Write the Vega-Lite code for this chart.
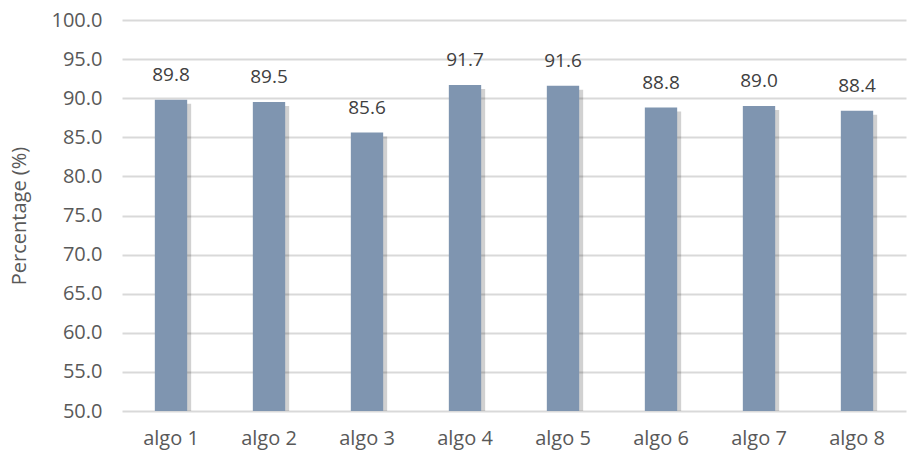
{
  "$schema": "https://vega.github.io/schema/vega-lite/v6.json",
  "autosize": "none",
  "width": 784,
  "height": 391,
  "padding": {"left": 122, "top": 20, "right": 15, "bottom": 48},
  "background": "white",
  "config": {
    "font": "Open Sans",
    "view": {"stroke": null}
  },
  "data": {
    "values": [
      {"algo": "algo 1", "pct": 89.8},
      {"algo": "algo 2", "pct": 89.5},
      {"algo": "algo 3", "pct": 85.6},
      {"algo": "algo 4", "pct": 91.7},
      {"algo": "algo 5", "pct": 91.6},
      {"algo": "algo 6", "pct": 88.8},
      {"algo": "algo 7", "pct": 89.0},
      {"algo": "algo 8", "pct": 88.4}
    ]
  },
  "encoding": {
    "x": {
      "field": "algo",
      "type": "nominal",
      "sort": null,
      "scale": {"paddingInner": 0.67, "paddingOuter": 0.335},
      "axis": {
        "title": null,
        "labelAngle": 0,
        "domain": false,
        "ticks": false,
        "labelPadding": 17,
        "labelFontSize": 20,
        "labelColor": "#595959"
      }
    },
    "y": {
      "field": "pct",
      "type": "quantitative",
      "scale": {"domain": [50, 100], "nice": false, "zero": false},
      "axis": {
        "title": "Percentage (%)",
        "titleFontSize": 20,
        "titleFontWeight": "normal",
        "titleColor": "#595959",
        "titlePadding": 22,
        "values": [50, 55, 60, 65, 70, 75, 80, 85, 90, 95, 100],
        "format": ".1f",
        "domain": false,
        "ticks": false,
        "labelPadding": 20,
        "labelFontSize": 20,
        "labelColor": "#595959",
        "gridColor": "#d9d9d9",
        "gridWidth": 2
      }
    }
  },
  "layer": [
    {
      "mark": {"type": "bar", "color": "#000000", "opacity": 0.18, "xOffset": 4, "yOffset": 4, "clip": true}
    },
    {
      "mark": {"type": "bar", "color": "#7f95b0", "clip": true}
    },
    {
      "mark": {"type": "text", "baseline": "alphabetic", "dy": -19, "fontSize": 19, "color": "#404040"},
      "encoding": {"text": {"field": "pct", "type": "quantitative", "format": ".1f"}}
    }
  ]
}
